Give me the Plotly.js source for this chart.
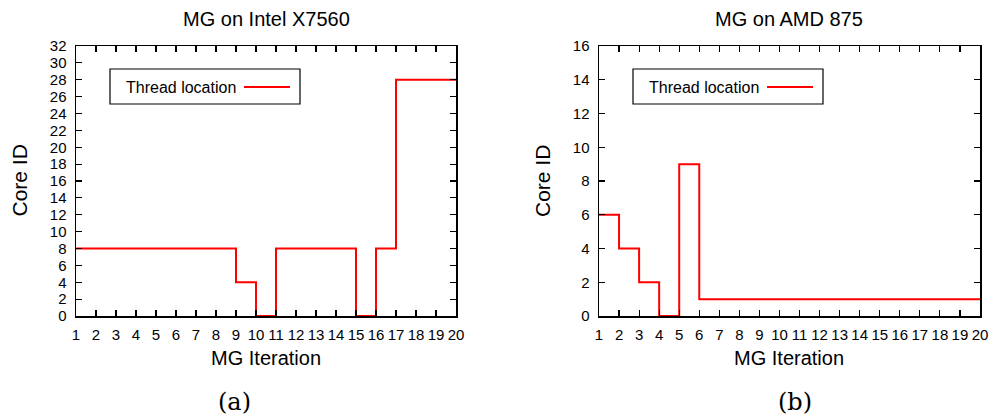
<!DOCTYPE html>
<html>
<head>
<meta charset="utf-8">
<script src="https://cdn.plot.ly/plotly-3.0.1.min.js"></script>
<style>html,body{margin:0;padding:0;background:#fff}#chart{width:992px;height:420px}</style>
</head>
<body>
<div id="chart"></div>
<script>
// Data
var iterations = [1,2,3,4,5,6,7,8,9,10,11,12,13,14,15,16,17,18,19,20];
var intelCore = [8,8,8,8,8,8,8,8,4,0,8,8,8,8,0,8,28,28,28,28];
var amdCore   = [6,4,2,0,9,1,1,1,1,1,1,1,1,1,1,1,1,1,1,1];
var titles = ["MG on Intel X7560", "MG on AMD 875"];
var captions = ["(a)", "(b)"];
var xTitle = "MG Iteration";
var yTitle = "Core ID";
var seriesName = "Thread location";

var W = 992, H = 420;
function px(x){return x/W;}
function py(y){return 1 - y/H;}

var lineStyle = {color:'#ff0000', width:2, shape:'hv'};
var traces = [
  {x: iterations, y: intelCore, type:'scatter', mode:'lines', line: lineStyle, name: seriesName, xaxis:'x', yaxis:'y', showlegend:false, cliponaxis:false},
  {x: iterations, y: amdCore, type:'scatter', mode:'lines', line: lineStyle, name: seriesName, xaxis:'x2', yaxis:'y2', showlegend:false, cliponaxis:false}
];

var font = 'Liberation Sans, Arial, sans-serif';
var serif = 'DejaVu Serif, Liberation Serif, serif';
function xax(domain, anchor){
  return {domain: domain, anchor: anchor, range:[1,20], tickmode:'array', tickvals: iterations, ticktext: iterations.map(String),
    ticks:'inside', ticklen:6, tickwidth:1.2, tickcolor:'#000', mirror:'ticks', showline:true, linecolor:'#000', linewidth:1.5,
    showgrid:false, zeroline:false, tickfont:{family:font, size:15, color:'#000'}, ticklabelstandoff:4};
}
function yax(domain, anchor, max){
  return {domain: domain, anchor: anchor, range:[0,max], dtick:2, tick0:0,
    ticks:'inside', ticklen:6, tickwidth:1.2, tickcolor:'#000', mirror:'ticks', showline:true, linecolor:'#000', linewidth:1.5,
    showgrid:false, zeroline:false, tickfont:{family:font, size:15, color:'#000'}, ticklabelstandoff:5};
}
function ann(text, x, y, size, fam, angle){
  return {text: text, xref:'paper', yref:'paper', x: px(x), y: py(y), xanchor:'center', yanchor:'middle', showarrow:false,
    textangle: angle || 0, font:{family: fam, size: size, color:'#000'}};
}
var ydom = [py(316), py(46)];
var layout = {
  width: W, height: H, margin:{l:0,r:0,t:0,b:0}, paper_bgcolor:'#fff', plot_bgcolor:'#fff', showlegend:false,
  xaxis: xax([px(76), px(456)], 'y'),
  yaxis: yax(ydom, 'x', 32),
  xaxis2: xax([px(599), px(980)], 'y2'),
  yaxis2: yax(ydom, 'x2', 16),
  annotations: [
    ann(titles[0], 266, 19, 20, font),
    ann(titles[1], 789, 19, 20, font),
    ann(xTitle, 266, 358, 20, font),
    ann(xTitle, 789, 358, 20, font),
    ann(yTitle, 18.5, 181, 21, font, -90),
    ann(yTitle, 542, 181, 21, font, -90),
    ann(captions[0], 234, 402, 24, serif),
    ann(captions[1], 795, 402, 24, serif),
    {text: seriesName, xref:'paper', yref:'paper', x: px(124), y: py(87), xanchor:'left', yanchor:'middle', showarrow:false, font:{family:font, size:16, color:'#000'}},
    {text: seriesName, xref:'paper', yref:'paper', x: px(647), y: py(87), xanchor:'left', yanchor:'middle', showarrow:false, font:{family:font, size:16, color:'#000'}}
  ],
  shapes: [
    {type:'rect', xref:'paper', yref:'paper', x0: px(110), x1: px(300), y0: py(104), y1: py(69), line:{color:'#000', width:1.2}},
    {type:'line', xref:'paper', yref:'paper', x0: px(244), x1: px(290), y0: py(87), y1: py(87), line:{color:'#ff0000', width:2}},
    {type:'rect', xref:'paper', yref:'paper', x0: px(633), x1: px(823), y0: py(104), y1: py(69), line:{color:'#000', width:1.2}},
    {type:'line', xref:'paper', yref:'paper', x0: px(767), x1: px(813), y0: py(87), y1: py(87), line:{color:'#ff0000', width:2}}
  ]
};
Plotly.newPlot('chart', traces, layout, {staticPlot:true, displayModeBar:false});
</script>
</body>
</html>
